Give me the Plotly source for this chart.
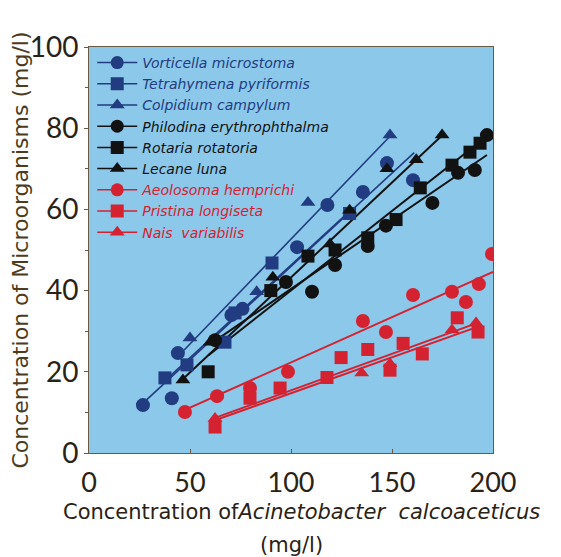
import plotly.graph_objects as go

# ---------------- data ----------------
vort_x = [26.7, 41, 44, 70.5, 76, 103, 118, 135.6, 147.5, 160.4]
vort_y = [11.8, 13.5, 24.6, 34, 35.5, 50.7, 61.1, 64.3, 71.4, 67.2]
vort_fit_x = [25, 161]
vort_fit_y = [11.5, 74]

tetra_x = [37.6, 48.5, 67.3, 72.3, 90.6, 129]
tetra_y = [18.5, 21.7, 27.3, 34.5, 46.8, 59]
tetra_fit_x = [37, 130]
tetra_fit_y = [17.5, 60]

colp_x = [50, 83, 108.4, 149]
colp_y = [28.3, 39.7, 61.7, 78.3]
colp_fit_x = [47, 149]
colp_fit_y = [25.3, 78]

phil_x = [62.4, 97.5, 110.4, 121.8, 138, 147, 170, 182.7, 191, 197]
phil_y = [27.8, 42.1, 39.7, 46.3, 51, 56, 61.6, 69, 69.7, 78.3]
phil_fit_x = [62, 197]
phil_fit_y = [27.5, 73.4]

rot_x = [59, 90, 108.4, 121.8, 138, 152, 164, 179.7, 188.6, 193.6]
rot_y = [20, 40, 48.5, 50, 53, 57.5, 65.3, 70.9, 74.1, 76.3]
rot_fit_x = [59, 197]
rot_fit_y = [24, 78]

lec_x = [46.5, 60, 91, 119.3, 129, 147.5, 162, 174.8]
lec_y = [18, 27.3, 43.3, 51.5, 59.8, 70, 72.2, 78.3]
lec_fit_x = [46, 175]
lec_fit_y = [18, 78.3]

aeol_x = [47.5, 63.4, 79.7, 98.5, 135.6, 147, 160.4, 179.7, 186.6, 193, 199.5]
aeol_y = [10.1, 14.0, 16.0, 20, 32.5, 29.8, 38.9, 39.7, 37.2, 41.6, 49]
aeol_fit_x = [47.5, 200]
aeol_fit_y = [10.6, 44.6]

prist_x = [62.4, 79.7, 94.6, 117.8, 124.8, 138, 149, 155.5, 165, 182.3, 192.6]
prist_y = [6.4, 13.5, 16, 18.6, 23.5, 25.5, 20.4, 27, 24.4, 33.3, 29.8]
prist_fit_x = [62, 192]
prist_fit_y = [8, 31]

nais_x = [62.4, 135, 149, 179.7, 191.6]
nais_y = [8.5, 19.7, 22, 30.3, 32]
nais_fit_x = [62, 192]
nais_fit_y = [8.6, 32]

x_ticks = [0, 50, 100, 150, 200]
y_ticks = [0, 20, 40, 60, 80, 100]

# ---------------- styling ----------------
NAVY = "#213c80"
BLACK = "#121212"
RED = "#d42230"
BG = "#8cc8ea"

series = [
    ("Vorticella microstoma", vort_x, vort_y, vort_fit_x, vort_fit_y, NAVY, "circle", 14, 1.6),
    ("Tetrahymena pyriformis", tetra_x, tetra_y, tetra_fit_x, tetra_fit_y, NAVY, "square", 13, 1.6),
    ("Colpidium campylum", colp_x, colp_y, colp_fit_x, colp_fit_y, NAVY, "triangle-up", 13, 1.6),
    ("Philodina erythrophthalma", phil_x, phil_y, phil_fit_x, phil_fit_y, BLACK, "circle", 14, 2),
    ("Rotaria rotatoria", rot_x, rot_y, rot_fit_x, rot_fit_y, BLACK, "square", 13, 2),
    ("Lecane luna", lec_x, lec_y, lec_fit_x, lec_fit_y, BLACK, "triangle-up", 13, 2),
    ("Aeolosoma hemprichi", aeol_x, aeol_y, aeol_fit_x, aeol_fit_y, RED, "circle", 14, 2),
    ("Pristina longiseta", prist_x, prist_y, prist_fit_x, prist_fit_y, RED, "square", 13, 2),
    ("Nais  variabilis", nais_x, nais_y, nais_fit_x, nais_fit_y, RED, "triangle-up", 13, 2),
]

fig = go.Figure()
for name, xs, ys, fx, fy, col, sym, sz, lw in series:
    fig.add_trace(go.Scatter(x=fx, y=fy, mode="lines", line=dict(color=col, width=lw),
                             showlegend=False, hoverinfo="skip"))
for name, xs, ys, fx, fy, col, sym, sz, lw in series:
    fig.add_trace(go.Scatter(x=xs, y=ys, mode="markers",
                             marker=dict(symbol=sym, size=sz, color=col, line=dict(width=0)),
                             showlegend=False, name=name))
for name, xs, ys, fx, fy, col, sym, sz, lw in series:
    fig.add_trace(go.Scatter(x=[None], y=[None], mode="lines+markers",
                             marker=dict(symbol=sym, size=13, color=col),
                             line=dict(color=col, width=1.5),
                             name=f"<span style='color:{col}'><i>{name}</i></span>"))

AX_TXT = "#2a2216"
TITLE_TXT = "#4d3c1c"
TITLE_FONT = "DejaVu Sans, sans-serif"

# page body has an 8px default margin, so the figure is slightly smaller
fig.update_layout(
    width=553, height=549,
    margin=dict(l=81, r=68, t=39, b=104),
    paper_bgcolor="white",
    plot_bgcolor=BG,
    font=dict(family="Lato, Open Sans, sans-serif", color=AX_TXT),
    legend=dict(x=0.008, y=1.0, xanchor="left", yanchor="top",
                bgcolor="rgba(0,0,0,0)", borderwidth=0, tracegroupgap=0,
                font=dict(family="DejaVu Sans, sans-serif", size=14),
                itemwidth=40),
    xaxis=dict(range=[0, 200], tickvals=x_ticks, ticktext=[str(v) for v in x_ticks],
               automargin=False,
               showgrid=False, zeroline=False, showline=True, linecolor="#6a5a44",
               linewidth=1, mirror=True, ticks="inside", ticklen=4, tickcolor="#6a5a44",
               tickfont=dict(size=27, color=AX_TXT), ticklabelstandoff=6),
    yaxis=dict(range=[0, 100], tickvals=y_ticks, ticktext=[str(v) for v in y_ticks],
               automargin=False,
               showgrid=False, zeroline=False, showline=True, linecolor="#6a5a44",
               linewidth=1, mirror=True, ticks="outside", ticklen=4, tickcolor="#6a5a44",
               minor=dict(dtick=10, ticks="outside", ticklen=3, tickcolor="#6a5a44"),
               tickfont=dict(size=28, color=AX_TXT), ticklabelstandoff=0,
               title=dict(text="Concentration of Microorganisms (mg/l)",
                          font=dict(size=22, family=TITLE_FONT, color=TITLE_TXT), standoff=0)),
    annotations=[
        dict(text="Concentration of<i>Acinetobacter  calcoaceticus</i>",
             xref="paper", yref="paper", x=0.527, y=-0.145,
             xanchor="center", yanchor="middle", showarrow=False,
             font=dict(size=21, family=TITLE_FONT, color=AX_TXT)),
        dict(text="(mg/l)", xref="paper", yref="paper", x=0.5, y=-0.227,
             xanchor="center", yanchor="middle", showarrow=False,
             font=dict(size=21, family=TITLE_FONT, color=AX_TXT)),
    ],
)

fig.write_html("out.html")
